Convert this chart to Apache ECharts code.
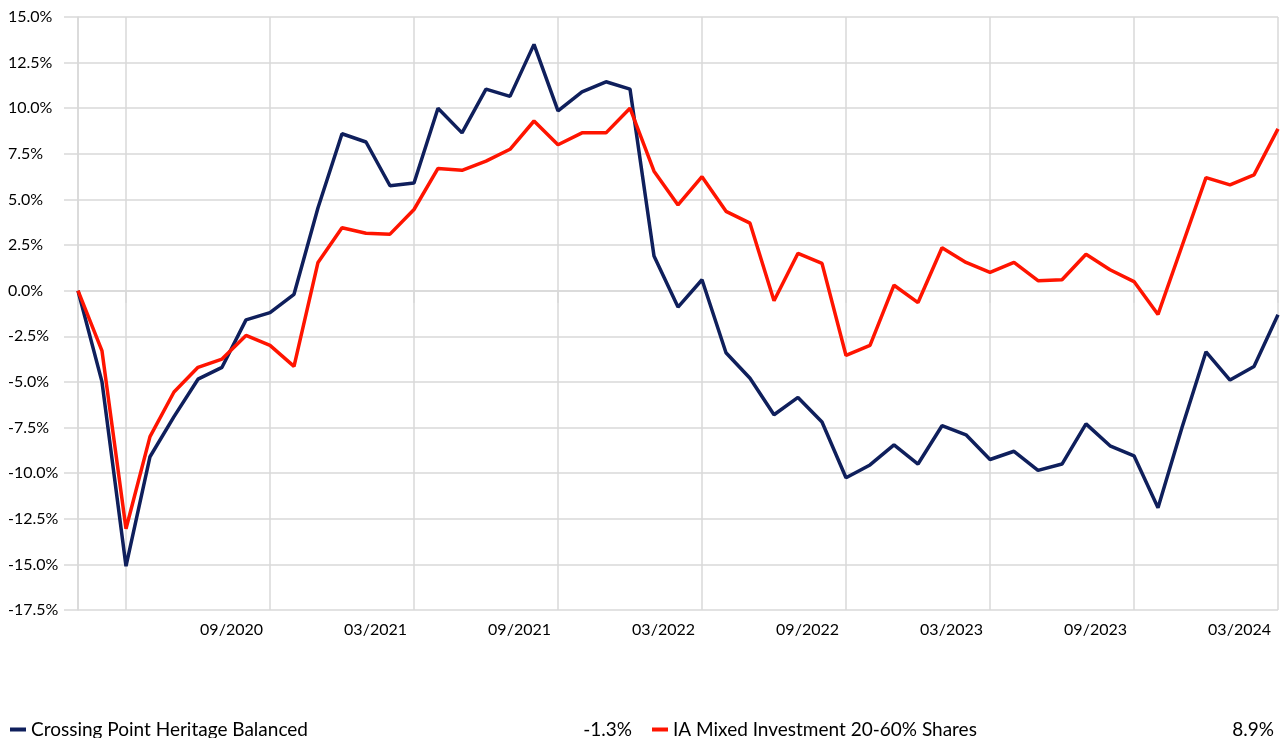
<!DOCTYPE html>
<html>
<head>
<meta charset="utf-8">
<script src="https://cdn.jsdelivr.net/npm/echarts@6/dist/echarts.min.js"></script>
<style>
  html, body { margin: 0; padding: 0; background: #fff; }
  #chart { width: 1281px; height: 738px; }
</style>
</head>
<body>
<div id="chart"></div>
<script>
// months 01/2020 .. 03/2024
const months = []
for (let y = 2020; y <= 2024; y++) {
  for (let m = 1; m <= 12; m++) {
    if (y === 2024 && m > 3) break
    months.push(String(m).padStart(2, '0') + '/' + y)
  }
}

const tickLabels = ['09/2020', '03/2021', '09/2021', '03/2022', '09/2022', '03/2023', '09/2023', '03/2024']

const fundName = 'Crossing Point Heritage Balanced'
const sectorName = 'IA Mixed Investment 20-60% Shares'

// cumulative performance, %
const fundData = [
  0, -5.0, -15.1, -9.1, -6.9, -4.85, -4.2, -1.6, -1.2, -0.2,
  4.55, 8.6, 8.15, 5.75, 5.9, 10.0, 8.65, 11.05, 10.65, 13.5,
  9.85, 10.9, 11.45, 11.05, 1.9, -0.9, 0.6, -3.4, -4.8, -6.8,
  -5.85, -7.2, -10.25, -9.55, -8.45, -9.5, -7.4, -7.9, -9.25, -8.8,
  -9.85, -9.5, -7.3, -8.5, -9.05, -11.9, -7.5, -3.35, -4.9, -4.15,
  -1.32
]
const sectorData = [
  0, -3.3, -13.05, -8.0, -5.55, -4.2, -3.75, -2.45, -3.0, -4.15,
  1.55, 3.45, 3.15, 3.1, 4.45, 6.7, 6.6, 7.1, 7.75, 9.3,
  8.0, 8.65, 8.65, 10.0, 6.55, 4.7, 6.25, 4.35, 3.7, -0.55,
  2.05, 1.5, -3.55, -3.0, 0.3, -0.65, 2.35, 1.55, 1.0, 1.55,
  0.55, 0.6, 2.0, 1.15, 0.5, -1.3, 2.45, 6.2, 5.8, 6.35,
  8.87
]

const gridColor = '#d9d9d9'
const font = 'Lato, "Open Sans", sans-serif'

const lastValue = {
  [fundName]: fundData[fundData.length - 1],
  [sectorName]: sectorData[sectorData.length - 1]
}

const showGrid = (i) => i === 0 || (i - 2) % 6 === 0

const chart = echarts.init(document.getElementById('chart'))

chart.setOption({
  animation: false,
  backgroundColor: '#fff',
  grid: { left: 78, right: 3, top: 17, bottom: 128, containLabel: false },
  legend: {
    left: 10,
    top: 720,
    width: 1275,
    padding: 0,
    itemWidth: 16,
    itemHeight: 4,
    itemGap: 20,
    icon: 'rect',
    data: [fundName, sectorName],
    formatter: (name) => `{n|${name}}{v|${lastValue[name].toFixed(1)}%}`,
    textStyle: {
      fontFamily: font,
      fontSize: 19,
      color: '#000',
      rich: {
        n: { width: 549, fontFamily: font, fontSize: 19, color: '#000' },
        v: { width: 52, align: 'right', fontFamily: font, fontSize: 19, color: '#000' }
      }
    }
  },
  xAxis: {
    type: 'category',
    boundaryGap: false,
    data: months,
    axisLine: { show: true, lineStyle: { color: gridColor, width: 1.5 } },
    axisTick: {
      show: true,
      length: 12,
      interval: (i) => showGrid(i),
      lineStyle: { color: gridColor, width: 1.5 }
    },
    splitLine: {
      show: true,
      interval: (i) => showGrid(i),
      lineStyle: { color: gridColor, width: 1.5 }
    },
    axisLabel: {
      interval: (i, v) => tickLabels.includes(v),
      align: 'right',
      padding: [0, 7, 0, 0],
      margin: 12,
      fontFamily: font,
      fontSize: 16,
      color: '#000'
    }
  },
  yAxis: {
    type: 'value',
    min: -17.5,
    max: 15,
    interval: 2.5,
    axisLine: { show: true, lineStyle: { color: gridColor, width: 1.5 } },
    axisTick: { show: true, length: 14, lineStyle: { color: gridColor, width: 1.5 } },
    splitLine: { show: true, lineStyle: { color: gridColor, width: 1.5 } },
    axisLabel: {
      formatter: (v) => v.toFixed(1) + '%',
      align: 'left',
      margin: 70,
      fontFamily: font,
      fontSize: 16,
      color: '#000'
    }
  },
  series: [
    {
      name: fundName,
      type: 'line',
      data: fundData,
      showSymbol: false,
      symbol: 'none',
      itemStyle: { color: '#0f1f5c' },
      lineStyle: { color: '#0f1f5c', width: 3.5 }
    },
    {
      name: sectorName,
      type: 'line',
      data: sectorData,
      showSymbol: false,
      symbol: 'none',
      itemStyle: { color: '#ff1400' },
      lineStyle: { color: '#ff1400', width: 3.5 }
    }
  ]
})
</script>
</body>
</html>
